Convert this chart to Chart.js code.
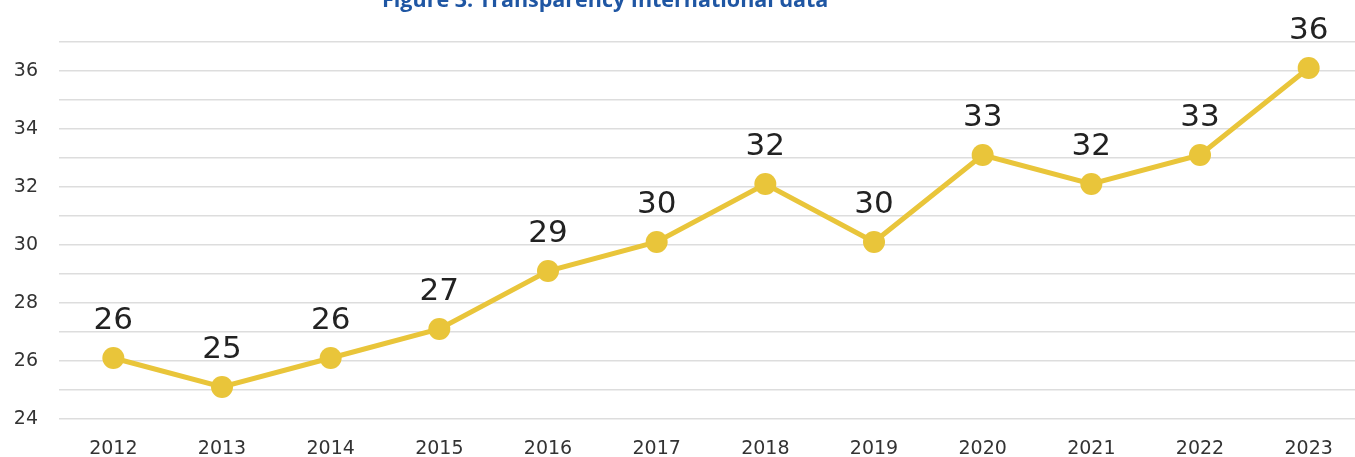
<!DOCTYPE html>
<html><head><meta charset="utf-8">
<script src="https://cdn.jsdelivr.net/npm/chart.js@4"></script>
<style>
html,body{margin:0;padding:0;background:#fff;overflow:hidden;width:1355px;height:457px;}
#wrap{position:absolute;left:0;top:0;width:1374px;height:457px;}
#title{position:absolute;left:382px;top:-16px;font-family:"Open Sans",sans-serif;font-weight:700;font-size:21.5px;color:#1f56a3;white-space:nowrap;}
</style></head><body>
<div id="wrap"><canvas id="c" width="1374" height="457"></canvas></div>
<div id="title">Figure 3: Transparency International data</div>
<script>
const years = ['2012','2013','2014','2015','2016','2017','2018','2019','2020','2021','2022','2023'];
const scores = [26,25,26,27,29,30,32,30,33,32,33,36];
const yMin = 24, yMax = 37;

const labelPlugin = {
  id:'valLabels',
  beforeDatasetsDraw(chart){ chart.ctx.save(); chart.ctx.translate(0,-3); },
  afterDatasetsDraw(chart){
    const ctx = chart.ctx;
    const meta = chart.getDatasetMeta(0);
    ctx.font = '31px "DejaVu Sans", sans-serif';
    ctx.fillStyle = '#222';
    ctx.textAlign = 'center';
    ctx.textBaseline = 'middle';
    meta.data.forEach((pt,i)=>{
      ctx.fillText(String(scores[i]), pt.x, pt.y - 37);
    });
    ctx.restore();
  }
};

const chart = new Chart(document.getElementById('c'), {
  type:'line',
  data:{labels:years, datasets:[{data:scores, borderColor:'#e9c53a', backgroundColor:'#e9c53a',
    borderWidth:5, pointRadius:11, pointHoverRadius:11, pointBorderWidth:0, tension:0, clip:false}]},
  options:{
    responsive:false, animation:false,
    layout:{padding:{top:42,right:0,bottom:0,left:0}},
    plugins:{legend:{display:false}, tooltip:{enabled:false}, title:{display:false}},
    scales:{
      x:{offset:true, grid:{display:false, drawTicks:false}, border:{display:false},
         ticks:{font:{family:'DejaVu Sans', size:19}, color:'#333', padding:19, maxRotation:0, autoSkip:false},
         afterFit(s){s.height=38;}},
      y:{min:yMin, max:yMax, border:{display:false},
         grid:{color:'#dddddd', lineWidth:1.5, drawTicks:false},
         ticks:{stepSize:1, font:{family:'DejaVu Sans', size:19}, color:'#333', padding:21,
           callback:(v)=> (v%2===0 ? String(v) : '')},
         afterFit(s){s.width=59;}}
    }
  },
  plugins:[labelPlugin]
});
</script>
</body></html>
